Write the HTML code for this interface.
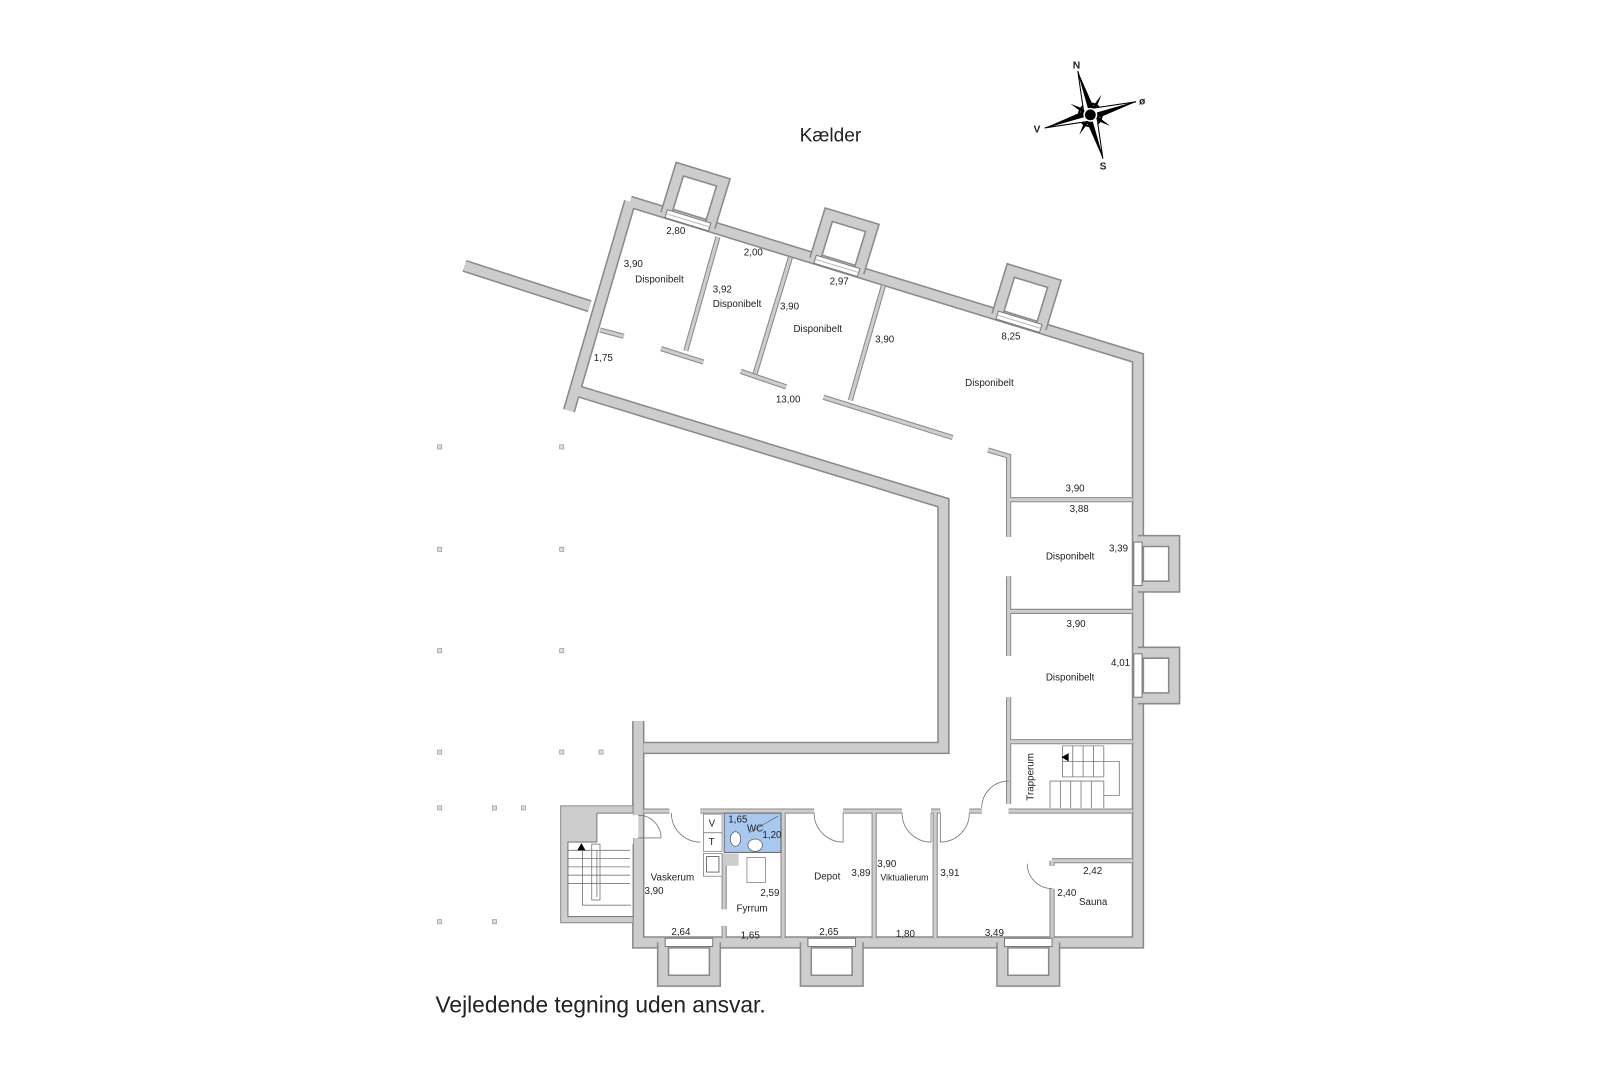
<!DOCTYPE html>
<html><head><meta charset="utf-8"><style>
html,body{margin:0;padding:0;background:#fff}
svg{display:block}
text{font-family:"Liberation Sans",sans-serif;fill:#222}
.l{font-size:9.5px}
</style></head><body>
<svg width="1620" height="1080" viewBox="3 1 1566 1044" xmlns="http://www.w3.org/2000/svg">
<defs>
<path id="W" d="M612,196 L1103,347 L1103,912 L620,912 L620,698 M612,196 L553,398 M558,378 L915,487 L915,724 L625,724 M452,258 L573,297"/>
<path id="T" d="M697,230 L666,340 M642,338 L683,351 M767,250 L733,362 M719,360 L763,375 M857,277 L825,388 M799,385 L924,424 M583,320 L606,326 M958,436 L978,442 L978,520 M978,484 L1098,484 M978,558 L978,635 M978,592 L1098,592 M978,675 L978,778 M978,718 L1098,718 M625,785 L650,785 M680,785 L790,785 M818,785 L875,785 M903,785 L912,785 M940,785 L952,785 M978,785 L1098,785 M760,785 L760,908 M848,785 L848,908 M907,785 L907,908 M1020,833 L1098,833 M1020,833 L1020,838 M1020,860 L1020,908 M703,826 L703,880 M703,896 L703,908"/>
</defs>
<g fill="none" stroke-linejoin="miter" stroke-linecap="butt">
<use href="#W" stroke="#8a8a8a" stroke-width="12"/>
<use href="#W" stroke="#cdcdcd" stroke-width="9"/>
<use href="#T" stroke="#8a8a8a" stroke-width="5"/>
<use href="#T" stroke="#cdcdcd" stroke-width="3"/>
</g>
<g fill="none">
<g transform="translate(668,214) rotate(17)"><polyline points="-22,0 -22,-45 22,-45 22,0" stroke="#8a8a8a" stroke-width="12"/><polyline points="-22,0 -22,-45 22,-45 22,0" stroke="#cdcdcd" stroke-width="9"/><rect x="-22" y="-4" width="44" height="8" fill="#fff" stroke="#777" stroke-width="1"/><line x1="-22" y1="0" x2="22" y2="0" stroke="#bbb"/></g>
<g transform="translate(812,258) rotate(17)"><polyline points="-22,0 -22,-45 22,-45 22,0" stroke="#8a8a8a" stroke-width="12"/><polyline points="-22,0 -22,-45 22,-45 22,0" stroke="#cdcdcd" stroke-width="9"/><rect x="-22" y="-4" width="44" height="8" fill="#fff" stroke="#777" stroke-width="1"/><line x1="-22" y1="0" x2="22" y2="0" stroke="#bbb"/></g>
<g transform="translate(988,312) rotate(17)"><polyline points="-22,0 -22,-45 22,-45 22,0" stroke="#8a8a8a" stroke-width="12"/><polyline points="-22,0 -22,-45 22,-45 22,0" stroke="#cdcdcd" stroke-width="9"/><rect x="-22" y="-4" width="44" height="8" fill="#fff" stroke="#777" stroke-width="1"/><line x1="-22" y1="0" x2="22" y2="0" stroke="#bbb"/></g>
<g transform="translate(1103,546) rotate(90)"><polyline points="-22,0 -22,-35 22,-35 22,0" stroke="#8a8a8a" stroke-width="12"/><polyline points="-22,0 -22,-35 22,-35 22,0" stroke="#cdcdcd" stroke-width="9"/><rect x="-21" y="-4" width="42" height="8" fill="#fff" stroke="#777" stroke-width="1"/></g>
<g transform="translate(1103,654) rotate(90)"><polyline points="-22,0 -22,-35 22,-35 22,0" stroke="#8a8a8a" stroke-width="12"/><polyline points="-22,0 -22,-35 22,-35 22,0" stroke="#cdcdcd" stroke-width="9"/><rect x="-21" y="-4" width="42" height="8" fill="#fff" stroke="#777" stroke-width="1"/></g>
<g transform="translate(669,912) rotate(180)"><polyline points="-25,0 -25,-37 25,-37 25,0" stroke="#8a8a8a" stroke-width="12"/><polyline points="-25,0 -25,-37 25,-37 25,0" stroke="#cdcdcd" stroke-width="9"/><rect x="-23" y="-4" width="46" height="8" fill="#fff" stroke="#777" stroke-width="1"/></g>
<g transform="translate(807,912) rotate(180)"><polyline points="-25,0 -25,-37 25,-37 25,0" stroke="#8a8a8a" stroke-width="12"/><polyline points="-25,0 -25,-37 25,-37 25,0" stroke="#cdcdcd" stroke-width="9"/><rect x="-23" y="-4" width="46" height="8" fill="#fff" stroke="#777" stroke-width="1"/></g>
<g transform="translate(997,912) rotate(180)"><polyline points="-25,0 -25,-37 25,-37 25,0" stroke="#8a8a8a" stroke-width="12"/><polyline points="-25,0 -25,-37 25,-37 25,0" stroke="#cdcdcd" stroke-width="9"/><rect x="-23" y="-4" width="46" height="8" fill="#fff" stroke="#777" stroke-width="1"/></g>
</g>
<rect x="545" y="780" width="70" height="113" fill="#cdcdcd" stroke="#8a8a8a" stroke-width="1"/>
<rect x="552" y="815" width="63" height="72" fill="#fff" stroke="#777" stroke-width="1"/>
<rect x="580" y="787" width="35" height="30" fill="#fff"/>
<line x1="580" y1="787" x2="580" y2="815" stroke="#777"/><line x1="580" y1="787" x2="615" y2="787" stroke="#777"/>
<g stroke="#777" stroke-width="0.8" fill="none">
<path d="M552,823 H612 M552,831 H612 M552,839 H612 M552,847 H612 M552,855 H612 M566,823 V876 H613 M580,823 V868"/>
<rect x="575" y="817" width="8" height="54"/>
</g>
<polygon points="565,816 561,823 569,823" fill="#000"/>
<rect x="614" y="789" width="6" height="22" fill="#fff"/>
<path d="M620,789 A22,22 0 0 1 642,811 M620,811 H642" fill="none" stroke="#777" stroke-width="0.8"/>
<g fill="none" stroke="#777" stroke-width="0.8">
<path d="M652,787 A28,28 0 0 0 680,815"/>
<path d="M790,787 A28,28 0 0 0 818,815 V787"/>
<path d="M875,787 A28,28 0 0 0 903,815 V787"/>
<path d="M912,787 V815 A28,28 0 0 0 940,787"/>
<path d="M952,782 A26,26 0 0 1 978,756"/>
<path d="M996,836 A24,24 0 0 0 1020,860"/>
</g>
<rect x="703" y="787" width="55" height="38" fill="#a9c8f0" stroke="#666" stroke-width="1"/>
<line x1="727" y1="806" x2="755" y2="790" stroke="#555" stroke-width="0.6"/>
<ellipse cx="714" cy="812" rx="5" ry="7" fill="#fff" stroke="#555" stroke-width="0.7"/>
<ellipse cx="733" cy="818" rx="7" ry="6" fill="#fff" stroke="#555" stroke-width="0.7"/>
<g fill="#fff" stroke="#888" stroke-width="0.8">
<rect x="683" y="788" width="18" height="18"/><rect x="683" y="806" width="18" height="18"/>
<rect x="683" y="826" width="18" height="22"/><rect x="686" y="829" width="12" height="15" stroke="#555"/>
<rect x="725" y="830" width="18" height="24"/>
</g>
<rect x="703" y="826" width="14" height="12" fill="#cdcdcd"/>
<text class="l" x="688" y="800">V</text><text class="l" x="688" y="818">T</text>
<g stroke="#777" stroke-width="0.8" fill="none">
<path d="M1030,722 V752 H1070 M1018,756 H1070 V782 M1018,756 V782 M1030,737 H1085 V770 H1070"/>
<path d="M1040,722 V752 M1050,722 V752 M1060,722 V752 M1070,722 V752 M1030,722 H1070 M1028,756 V782 M1038,756 V782 M1048,756 V782 M1058,756 V782"/>
</g>
<polygon points="1029,733 1036,729 1036,737" fill="#000"/>
<g fill="#ddd" stroke="#999" stroke-width="0.7">
<rect x="426" y="431" width="4" height="4"/><rect x="544" y="431" width="4" height="4"/>
<rect x="426" y="530" width="4" height="4"/><rect x="544" y="530" width="4" height="4"/>
<rect x="426" y="628" width="4" height="4"/><rect x="544" y="628" width="4" height="4"/>
<rect x="426" y="726" width="4" height="4"/><rect x="544" y="726" width="4" height="4"/><rect x="582" y="726" width="4" height="4"/>
<rect x="426" y="780" width="4" height="4"/><rect x="479" y="780" width="4" height="4"/><rect x="507" y="780" width="4" height="4"/>
<rect x="426" y="890" width="4" height="4"/><rect x="479" y="890" width="4" height="4"/>
</g>
<g transform="translate(1057,112) rotate(-16)">
<circle r="11" fill="none" stroke="#000" stroke-width="2"/>
<g transform="rotate(45)"><polygon points="0,-22 3,0 0,22 -3,0" fill="#000"/><polygon points="-22,0 0,3 22,0 0,-3" fill="#000"/></g>
<polygon points="0,-44 6,0 0,0" fill="#000"/><polygon points="0,-44 -6,0 0,0" fill="#fff" stroke="#000" stroke-width="1"/>
<polygon points="0,44 -6,0 0,0" fill="#000"/><polygon points="0,44 6,0 0,0" fill="#fff" stroke="#000" stroke-width="1"/>
<polygon points="46,0 0,6 0,0" fill="#000"/><polygon points="46,0 0,-6 0,0" fill="#fff" stroke="#000" stroke-width="1"/>
<polygon points="-46,0 0,-6 0,0" fill="#000"/><polygon points="-46,0 0,6 0,0" fill="#fff" stroke="#000" stroke-width="1"/>
<circle r="6" fill="#000" stroke="#fff" stroke-width="1.5"/>
</g>
<text x="1040" y="67" font-size="10" font-weight="bold">N</text>
<text x="1104" y="102" font-size="10" font-weight="bold">ø</text>
<text x="1002" y="129" font-size="10" font-weight="bold">V</text>
<text x="1066" y="165" font-size="10" font-weight="bold">S</text>
<text x="776" y="138" font-size="18.5">Kælder</text>
<text x="424" y="980" font-size="22">Vejledende tegning uden ansvar.</text>
<g class="l">
<text x="647" y="227">2,80</text><text x="606" y="259">3,90</text><text x="617" y="274">Disponibelt</text>
<text x="722" y="248">2,00</text><text x="692" y="284">3,92</text><text x="692" y="298">Disponibelt</text>
<text x="805" y="276">2,97</text><text x="757" y="300">3,90</text><text x="770" y="322">Disponibelt</text>
<text x="849" y="332">3,90</text><text x="971" y="329">8,25</text><text x="936" y="374">Disponibelt</text>
<text x="577" y="350">1,75</text><text x="753" y="390">13,00</text>
<text x="1033" y="476">3,90</text><text x="1037" y="496">3,88</text>
<text x="1075" y="534">3,39</text><text x="1014" y="542">Disponibelt</text>
<text x="1034" y="607">3,90</text>
<text x="1077" y="645">4,01</text><text x="1014" y="659">Disponibelt</text>
<text transform="translate(1002,775) rotate(-90)">Trapperum</text>
<text x="707" y="796">1,65</text><text x="725" y="805">WC</text><text x="740" y="811">1,20</text>
<text x="632" y="852">Vaskerum</text><text x="626" y="865">3,90</text>
<text x="738" y="867">2,59</text><text x="715" y="882">Fyrrum</text>
<text x="652" y="905">2,64</text><text x="719" y="908">1,65</text>
<text x="790" y="851">Depot</text><text x="826" y="848">3,89</text>
<text x="851" y="839">3,90</text><text x="854" y="852" font-size="8.5">Viktualierum</text>
<text x="912" y="848">3,91</text>
<text x="795" y="905">2,65</text><text x="869" y="907">1,80</text><text x="955" y="906">3,49</text>
<text x="1050" y="846">2,42</text><text x="1025" y="867">2,40</text><text x="1046" y="876">Sauna</text>
</g>
</svg>
</body></html>
